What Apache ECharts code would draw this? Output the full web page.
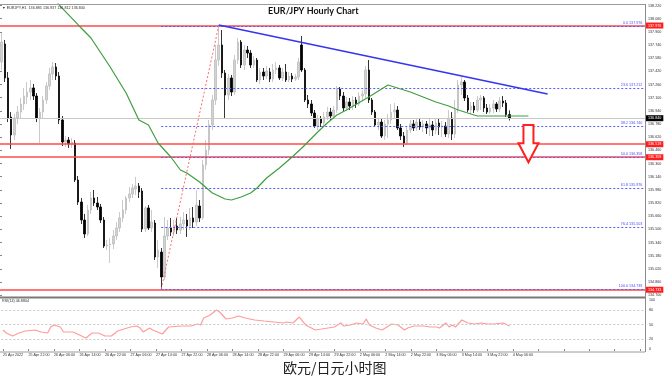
<!DOCTYPE html>
<html><head><meta charset="utf-8">
<script src="https://cdn.jsdelivr.net/npm/echarts/dist/echarts.min.js"></script>
<style>html,body{margin:0;padding:0;background:#fff}#c{width:672px;height:380px}</style>
</head><body><div id="c"></div>
<script>
const timeLabels = ["25 Apr 2022","25 Apr 22:00","26 Apr 06:00","26 Apr 14:00","26 Apr 22:00","27 Apr 06:00","27 Apr 14:00","27 Apr 22:00","28 Apr 06:00","28 Apr 14:00","28 Apr 22:00","29 Apr 06:00","29 Apr 14:00","29 Apr 22:00","2 May 06:00","2 May 14:00","2 May 22:00","3 May 06:00","3 May 14:00","3 May 22:00","4 May 06:00"];
const opens = [137.531,137.753,137.335,136.855,136.634,136.843,136.916,137.015,137.101,137.162,137.212,137.113,136.843,136.916,137.064,137.236,137.384,137.470,137.359,136.818,136.547,136.572,136.523,136.535,136.080,135.809,135.588,135.416,135.711,135.859,135.797,135.748,135.588,135.268,135.281,135.293,135.391,135.490,135.613,135.711,135.859,135.908,135.969,136.006,135.945,135.477,135.736,135.490,135.551,135.133,135.194,134.887,135.391,135.490,135.440,135.514,135.465,135.539,135.588,135.514,135.613,135.563,135.760,135.613,136.265,136.449,136.757,137.064,137.556,137.741,137.396,137.126,137.335,137.162,137.556,137.777,137.495,137.679,137.642,137.495,137.556,137.310,137.408,137.359,137.408,137.322,137.433,137.458,137.335,137.408,137.310,137.359,137.322,137.347,137.741,137.433,137.064,137.015,136.904,136.744,136.830,136.781,136.855,136.916,136.867,136.941,137.199,137.113,136.966,137.039,136.990,137.064,137.015,137.113,137.138,137.433,137.064,136.916,136.757,136.793,136.621,136.769,136.818,136.916,136.941,136.720,136.621,136.535,136.695,136.769,136.720,136.793,136.732,136.769,136.720,136.757,136.695,136.781,136.732,136.744,136.646,136.843,136.646,136.941,137.249,137.285,137.089,136.941,136.990,136.941,137.064,137.089,136.966,136.916,136.966,137.015,136.953,137.052,137.027,136.885];
const closes = [137.777,137.335,136.843,136.634,136.843,136.916,137.015,137.113,137.162,137.212,137.113,136.843,136.916,137.064,137.236,137.384,137.470,137.359,136.818,136.547,136.572,136.523,136.547,136.080,135.809,135.588,135.416,135.711,135.859,135.797,135.748,135.588,135.268,135.281,135.293,135.391,135.490,135.613,135.711,135.859,135.908,135.982,136.006,135.932,135.477,135.736,135.490,135.563,135.133,135.219,134.887,135.391,135.490,135.440,135.514,135.465,135.539,135.588,135.514,135.613,135.563,135.773,135.613,136.265,136.449,136.757,137.064,137.556,137.741,137.396,137.126,137.335,137.162,137.556,137.777,137.495,137.679,137.642,137.495,137.556,137.310,137.408,137.359,137.421,137.322,137.433,137.458,137.335,137.408,137.310,137.359,137.322,137.347,137.531,137.433,137.064,137.015,136.904,136.744,136.830,136.781,136.855,136.916,136.867,136.941,137.199,137.113,136.966,137.039,136.990,137.064,137.015,137.113,137.138,137.433,137.064,136.916,136.757,136.793,136.621,136.769,136.818,136.916,136.941,136.720,136.621,136.535,136.695,136.769,136.720,136.793,136.732,136.769,136.720,136.757,136.695,136.781,136.732,136.744,136.646,136.843,136.646,136.941,137.249,137.285,137.089,136.941,136.990,136.941,137.064,137.089,136.966,136.916,136.966,137.015,136.953,137.052,137.027,136.885,136.840];
const lows = [137.433,137.285,136.793,136.461,136.572,136.769,136.843,136.941,137.015,137.064,137.064,136.793,136.535,136.843,137.015,137.187,137.310,137.310,136.769,136.498,136.486,136.474,136.474,136.055,135.773,135.539,135.367,135.391,135.662,135.760,135.711,135.551,135.244,135.219,135.059,135.231,135.342,135.440,135.563,135.662,135.809,135.859,135.896,135.859,135.440,135.440,135.465,135.440,135.096,134.998,134.739,134.850,135.342,135.391,135.391,135.416,135.416,135.465,135.379,135.465,135.490,135.514,135.563,135.588,136.203,136.388,136.695,137.003,137.482,137.335,136.843,137.064,137.113,137.126,137.507,137.458,137.433,137.581,137.458,137.458,137.285,137.261,137.310,137.322,137.285,137.285,137.384,137.310,137.298,137.285,137.285,137.285,137.298,137.310,137.408,137.039,136.966,136.867,136.720,136.695,136.732,136.744,136.818,136.818,136.830,136.904,137.064,136.929,136.929,136.941,136.941,136.966,136.990,137.064,137.089,137.027,136.880,136.732,136.695,136.597,136.572,136.597,136.769,136.843,136.695,136.572,136.486,136.511,136.658,136.683,136.683,136.695,136.670,136.646,136.621,136.621,136.646,136.634,136.609,136.609,136.597,136.572,136.597,136.904,137.126,137.052,136.916,136.892,136.904,136.916,136.941,136.916,136.892,136.892,136.904,136.916,136.916,136.978,136.855,136.812];
const highs = [137.888,137.802,137.408,136.916,136.892,136.990,137.089,137.212,137.285,137.310,137.261,137.150,136.966,137.113,137.285,137.458,137.531,137.519,137.408,136.867,136.621,136.609,136.597,136.572,136.129,135.859,135.662,135.773,135.932,135.957,135.871,135.785,135.625,135.342,135.367,135.465,135.563,135.686,135.834,135.883,135.994,136.031,136.117,136.043,135.982,135.760,135.773,135.711,135.588,135.342,135.244,135.625,135.588,135.613,135.588,135.613,135.625,135.686,135.662,135.736,135.748,135.957,135.834,136.326,136.572,136.818,137.126,137.741,137.976,137.925,137.433,137.384,137.372,137.618,137.827,137.802,137.741,137.728,137.679,137.605,137.581,137.458,137.458,137.482,137.458,137.507,137.531,137.495,137.458,137.507,137.408,137.396,137.384,137.581,137.851,137.458,137.126,137.064,136.941,136.880,136.867,136.916,136.978,136.966,136.990,137.236,137.224,137.162,137.101,137.089,137.113,137.101,137.162,137.187,137.482,137.556,137.089,136.941,136.843,136.830,136.818,136.892,137.015,137.027,136.990,136.769,136.670,136.744,136.818,136.818,136.843,136.830,136.818,136.806,136.843,136.806,136.830,136.843,136.806,136.793,136.941,136.916,137.064,137.310,137.347,137.310,137.126,137.039,137.039,137.113,137.126,137.113,137.015,137.015,137.064,137.039,137.101,137.113,137.064,136.937];
const maPoints = [[17,138.290],[18,138.233],[24,137.987],[28,137.827],[34,137.470],[39,137.150],[43,136.818],[46,136.757],[49,136.535],[53,136.363],[56,136.203],[58,136.166],[62,136.055],[66,135.920],[70,135.846],[72,135.834],[75,135.871],[78,135.920],[80,135.982],[83,136.105],[87,136.228],[91,136.363],[95,136.511],[99,136.670],[102,136.781],[105,136.880],[108,136.941],[115,137.101],[121,137.249],[124,137.212],[128,137.162],[132,137.101],[136,137.039],[140,136.990],[143,136.941],[149,136.867],[156,136.867],[165,136.867]];
const rsiPoints = [[0,38.8],[1,32.7],[3,26.5],[5,32.7],[7,36.7],[10,38.8],[12,34.7],[14,32.7],[15,44.9],[16,49.0],[18,44.9],[19,34.7],[22,34.7],[24,28.6],[26,22.4],[28,32.7],[30,32.7],[32,26.5],[34,26.5],[36,36.7],[38,40.8],[40,44.9],[42,46.9],[43,42.9],[44,34.7],[46,42.9],[47,38.8],[50,30.6],[52,44.9],[56,46.9],[59,46.9],[61,51.0],[62,49.0],[63,63.3],[65,69.4],[67,79.6],[68,75.5],[70,61.2],[72,63.3],[74,67.3],[76,63.3],[79,59.2],[82,57.1],[85,55.1],[88,53.1],[89,55.1],[91,53.1],[93,65.3],[95,49.0],[98,38.8],[100,40.8],[102,42.9],[104,44.9],[106,53.1],[107,46.9],[109,49.0],[111,53.1],[113,51.0],[114,61.2],[115,49.0],[117,42.9],[119,38.8],[122,51.0],[124,49.0],[126,38.8],[127,42.9],[129,46.9],[132,46.9],[134,44.9],[136,44.9],[137,42.9],[139,53.1],[140,44.9],[141,49.0],[142,44.9],[144,59.2],[146,53.1],[148,51.0],[150,53.1],[152,51.0],[154,51.0],[157,53.1],[159,46.88]];
const trendLine = [[68,137.987],[171,137.138]];
const fibDiagonal = [[50,134.739],[68,137.976]];
const fibStart = 50;
const fibNames = ["0.0","23.6","38.2","50.0","61.8","76.4","100.0"];
const fibLevels = [137.976,137.212,136.740,136.358,135.976,135.503,134.739];
const redLevels = [137.976,136.519,136.359,134.733];
const bidPrice = 136.840;
const rsiGuides = [20,50,80];
const rsiTickLabels = [0,20,50,80,100];
const arrowSpec = {slot:165, top:136.757, neck:136.531, tip:136.298};
const SLOTS = 202;

const slots = Array.from({length:SLOTS},(_,i)=>String(i));
const candles = opens.map((o,i)=>[o,closes[i],lows[i],highs[i]]);
const FONT = 'Liberation Sans';
const FS = 3.7;

const chart = echarts.init(document.getElementById('c'), null, {renderer:'canvas'});
const markData = [];
redLevels.forEach(v=>markData.push({yAxis:v, lineStyle:{color:'#ff4a4a',width:1.5,type:'solid'},
  label:{show:true,position:'end',distance:1,formatter:v.toFixed(3),backgroundColor:'#ff1e1e',color:'#fff',fontSize:FS,fontFamily:FONT,padding:[1,2,1,2]}}));
markData.push({yAxis:bidPrice, lineStyle:{color:'#c8c8c8',width:1,type:'solid'},
  label:{show:true,position:'end',distance:1,formatter:bidPrice.toFixed(3),backgroundColor:'#000',color:'#fff',fontSize:FS,fontFamily:FONT,padding:[1,2,1,2]}});
fibLevels.forEach((v,k)=>markData.push([
  {coord:[fibStart,v], lineStyle:{color:'#5a5aff',width:1,type:[2,2]},
   label:{show:true,position:'insideEndTop',distance:1,formatter:fibNames[k]+' '+v.toFixed(3),color:'#4b4bff',fontSize:FS,fontFamily:FONT}},
  {coord:[SLOTS-1,v]}]));

chart.setOption({
  animation:false,
  backgroundColor:'#fff',
  grid:[
    {left:0,right:27,top:4,height:293},
    {left:0,right:27,top:4,height:304.4},
    {left:0,right:27,top:300,height:49}
  ],
  xAxis:[
    {gridIndex:0,type:'category',data:slots,boundaryGap:true,show:false},
    {gridIndex:1,type:'value',min:0,max:1,show:false},
    {gridIndex:2,type:'category',data:slots,boundaryGap:true,
      axisLine:{show:false},
      axisTick:{show:true,interval:7,alignWithLabel:true,length:2,lineStyle:{color:'#888'}},
      axisLabel:{interval:7,fontSize:FS,color:'#333',fontFamily:FONT,margin:4,align:'left',
        formatter:(v,i)=> (i%8===0 && timeLabels[i/8]) ? timeLabels[i/8] : ''}}
  ],
  yAxis:[
    {gridIndex:0,type:'value',min:134.6409,max:138.2448,show:false},
    {gridIndex:1,type:'value',position:'right',min:134.54,max:138.2382,interval:0.16,
      axisLine:{show:false},splitLine:{show:false},
      axisTick:{show:true,length:2,lineStyle:{color:'#888'}},
      axisLabel:{fontSize:FS,color:'#333',fontFamily:FONT,margin:3,showMinLabel:false,showMaxLabel:false,
        formatter:v=>v.toFixed(3)}},
    {gridIndex:2,type:'value',position:'right',min:0,max:100,interval:10,
      axisLine:{show:false},splitLine:{show:false},
      axisTick:{show:false},
      axisLabel:{fontSize:FS,color:'#333',fontFamily:FONT,margin:4,
        formatter:v=> rsiTickLabels.includes(Math.round(v)) ? String(Math.round(v)) : ''}}
  ],
  series:[
    {type:'candlestick',xAxisIndex:0,yAxisIndex:0,data:candles,barWidth:2,z:2,
      itemStyle:{color:'#d2d2d2',color0:'#000',borderColor:'#bdbdbd',borderColor0:'#000',borderWidth:0.8},
      markLine:{symbol:'none',silent:true,animation:false,data:markData,z:3}},
    {type:'line',xAxisIndex:0,yAxisIndex:0,data:maPoints,symbol:'none',z:4,
      lineStyle:{color:'#3f9f3f',width:1.2}},
    {type:'line',xAxisIndex:0,yAxisIndex:0,data:trendLine,symbol:'none',z:4,
      lineStyle:{color:'#3535f0',width:1.5}},
    {type:'line',xAxisIndex:0,yAxisIndex:0,data:fibDiagonal,symbol:'none',z:4,
      lineStyle:{color:'#ff6a6a',width:1,type:[2,2]}},
    {type:'line',xAxisIndex:2,yAxisIndex:2,data:rsiPoints,symbol:'none',z:4,
      lineStyle:{color:'#ff9b9b',width:1.2},
      markLine:{symbol:'none',silent:true,animation:false,
        data:rsiGuides.map(v=>({yAxis:v})),label:{show:false},
        lineStyle:{color:'#c8c8c8',width:1,type:[2,2]}}}
  ]
});

function px(slot,price){return chart.convertToPixel({xAxisIndex:0,yAxisIndex:0},[slot,price]);}
const a0 = px(arrowSpec.slot,arrowSpec.top), a1 = px(arrowSpec.slot,arrowSpec.neck), a2 = px(arrowSpec.slot,arrowSpec.tip);
const cx = a0[0];
chart.setOption({graphic:[
  {type:'line',shape:{x1:0,y1:4.5,x2:645,y2:4.5},style:{stroke:'#9a9a9a',lineWidth:1},z:10},
  {type:'line',shape:{x1:645.5,y1:4,x2:645.5,y2:352},style:{stroke:'#8a8a8a',lineWidth:1},z:10},
  {type:'line',shape:{x1:0,y1:297.5,x2:645,y2:297.5},style:{stroke:'#7a7a7a',lineWidth:2},z:10},
  {type:'line',shape:{x1:0,y1:352,x2:645,y2:352},style:{stroke:'#9a9a9a',lineWidth:1},z:10},
  {type:'polygon',shape:{points:[[cx-5,a0[1]],[cx+5,a0[1]],[cx+5,a1[1]],[cx+10,a1[1]],[cx,a2[1]],[cx-10,a1[1]],[cx-5,a1[1]]]},
    style:{fill:'#fff',stroke:'#ff2020',lineWidth:2},z:10},
  {type:'text',left:268,top:7,style:{text:'EUR/JPY Hourly Chart',font:'bold 9px Lato',fill:'#111'},z:10},
  {type:'text',left:2,top:5.5,style:{text:'\u25BC EURJPY,H1  136.885 136.937 136.812 136.840',font:FS+'px "Liberation Sans"',fill:'#333'},z:10},
  {type:'text',left:2,top:299,style:{text:'RSI(14) 46.8804',font:FS+'px "Liberation Sans"',fill:'#333'},z:10},
  {type:'text',left:283,top:361,style:{text:'欧元/日元小时图',font:'14px "Noto Sans CJK SC"',fill:'#222'},z:10}
]});
</script></body></html>
